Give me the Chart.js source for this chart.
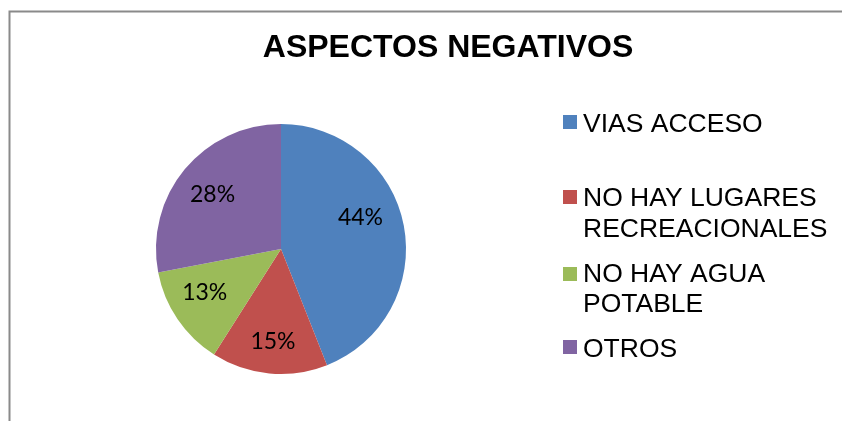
<!DOCTYPE html>
<html>
<head>
<meta charset="utf-8">
<script src="https://cdn.jsdelivr.net/npm/chart.js@4"></script>
<style>
  html, body { margin: 0; padding: 0; background: #fff; }
  #wrap { width: 842px; height: 421px; position: relative; }
</style>
</head>
<body>
<div id="wrap"><canvas id="pieChart" width="842" height="421"></canvas></div>
<script>
// datos del grafico
const chartTitle = 'ASPECTOS NEGATIVOS';
const categories = ['VIAS ACCESO', 'NO HAY LUGARES RECREACIONALES', 'NO HAY AGUA POTABLE', 'OTROS'];
const legendLines = [['VIAS ACCESO'], ['NO HAY LUGARES', 'RECREACIONALES'], ['NO HAY AGUA', 'POTABLE'], ['OTROS']];
const values = [44, 15, 13, 28];
const colors = ['#4F81BD', '#C0504D', '#9BBB59', '#8064A2'];

// ajuste fino de la posicion de cada etiqueta (px)
const labelNudge = [[-4, -15], [0, 8], [-6, -4], [-3, 0]];

// marco, titulo, leyenda y porcentajes
const decor = {
  id: 'decor',
  beforeDraw(chart) {
    const ctx = chart.ctx;
    ctx.save();
    ctx.fillStyle = '#fff';
    ctx.fillRect(0, 0, chart.width, chart.height);
    ctx.strokeStyle = '#8a8a8a';
    ctx.lineWidth = 2;
    ctx.beginPath();
    ctx.moveTo(9.5, chart.height + 5);
    ctx.lineTo(9.5, 11.5);
    ctx.lineTo(chart.width + 5, 11.5);
    ctx.stroke();
    ctx.restore();
  },
  afterDraw(chart) {
    const ctx = chart.ctx;
    ctx.save();
    // titulo
    ctx.fillStyle = '#000';
    ctx.font = 'bold 32px "Liberation Sans", Arial, sans-serif';
    ctx.textAlign = 'center';
    ctx.textBaseline = 'alphabetic';
    ctx.fillText(chartTitle, 448, 57);

    // leyenda
    const rows = [[115, 132], [190, 206, 237], [267, 282, 312], [340, 357]];
    ctx.font = '26.5px "Liberation Sans", Arial, sans-serif';
    ctx.textAlign = 'left';
    legendLines.forEach((lines, i) => {
      ctx.fillStyle = colors[i];
      ctx.fillRect(563, rows[i][0], 14, 14);
      ctx.fillStyle = '#000';
      lines.forEach((t, j) => ctx.fillText(t, 583, rows[i][j + 1]));
    });

    // porcentajes sobre cada sector
    const total = values.reduce((a, b) => a + b, 0);
    const meta = chart.getDatasetMeta(0);
    ctx.font = '23px Lato, "Open Sans", sans-serif';
    ctx.textAlign = 'center';
    ctx.textBaseline = 'middle';
    meta.data.forEach((arc, i) => {
      const p = arc.getProps(['x', 'y', 'startAngle', 'endAngle', 'outerRadius']);
      const mid = (p.startAngle + p.endAngle) / 2;
      const r = p.outerRadius * 0.68;
      const pct = Math.round(values[i] / total * 100) + '%';
      ctx.fillText(pct, p.x + Math.cos(mid) * r + labelNudge[i][0], p.y + Math.sin(mid) * r + labelNudge[i][1]);
    });
    ctx.restore();
  }
};

new Chart(document.getElementById('pieChart').getContext('2d'), {
  type: 'pie',
  data: {
    labels: categories,
    datasets: [{
      data: values,
      backgroundColor: colors,
      borderColor: '#ffffff',
      borderWidth: 0
    }]
  },
  options: {
    responsive: false,
    animation: false,
    layout: { padding: { left: 156, right: 436, top: 124, bottom: 47 } },
    plugins: {
      legend: { display: false },
      title: { display: false },
      tooltip: { enabled: false }
    }
  },
  plugins: [decor]
});
</script>
</body>
</html>
